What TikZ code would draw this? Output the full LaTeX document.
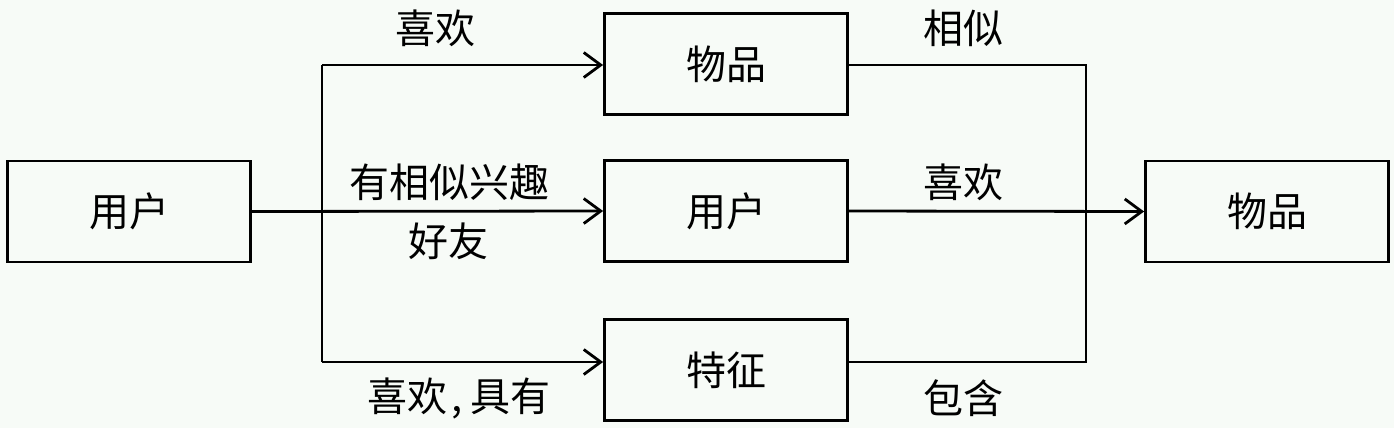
\documentclass[tikz,border=0pt]{standalone}
\usepackage{fontspec}
\setmainfont{Noto Sans CJK SC}
\usetikzlibrary{arrows.meta}
\definecolor{bgc}{RGB}{247,251,247}
\begin{document}
\begin{tikzpicture}[x=1pt,y=-1pt,
  box/.style={draw=black,line width=2.8pt,rectangle,minimum width=243pt,minimum height=101pt,inner sep=0pt,font=\fontsize{40}{48}\selectfont},
  lbl/.style={inner sep=0pt,font=\fontsize{40}{48}\selectfont},
  conn/.style={line width=2.8pt},
  arr/.style={conn,-{Straight Barb[length=17pt,width=25pt,line width=2.8pt]}}]
\fill[bgc] (0,0) rectangle (1394,428);
\useasboundingbox (0,0) rectangle (1394,428);
\node[box] (u1) at (129,211.5) {用户};
\node[box] (i1) at (726,64) {物品};
\node[box] (u2) at (726,211) {用户};
\node[box] (f) at (726,370) {特征};
\node[box] (i2) at (1267,211.5) {物品};
\coordinate (jt) at (322,65);
\coordinate (jb) at (322,362);
\coordinate (rt) at (1086,65);
\coordinate (rb) at (1086,362);
\draw[conn] (jt) -- (jb);
\draw[arr] (jt) -- (jt -| i1.west);
\draw[arr] (jb) -- (jb -| f.west);
\draw[arr] (u1.east) -- (u2.west);
\draw[conn] (rt -| i1.east) -- (rt) -- (rb) -- (rb -| f.east);
\draw[arr] (u2.east) -- (i2.west);
\node[lbl] (l1) at (435,28) {喜欢};
\node[lbl] (l2) at (449,182) {有相似兴趣};
\node[lbl] (l3) at (448,241) {好友};
\node[lbl] (l4) at (459,398) {喜欢\kern4pt,\kern8pt具有};
\node[lbl] (l5) at (963,28) {相似};
\node[lbl] (l6) at (963,182) {喜欢};
\node[lbl] (l7) at (963,398) {包含};
\end{tikzpicture}
\end{document}
